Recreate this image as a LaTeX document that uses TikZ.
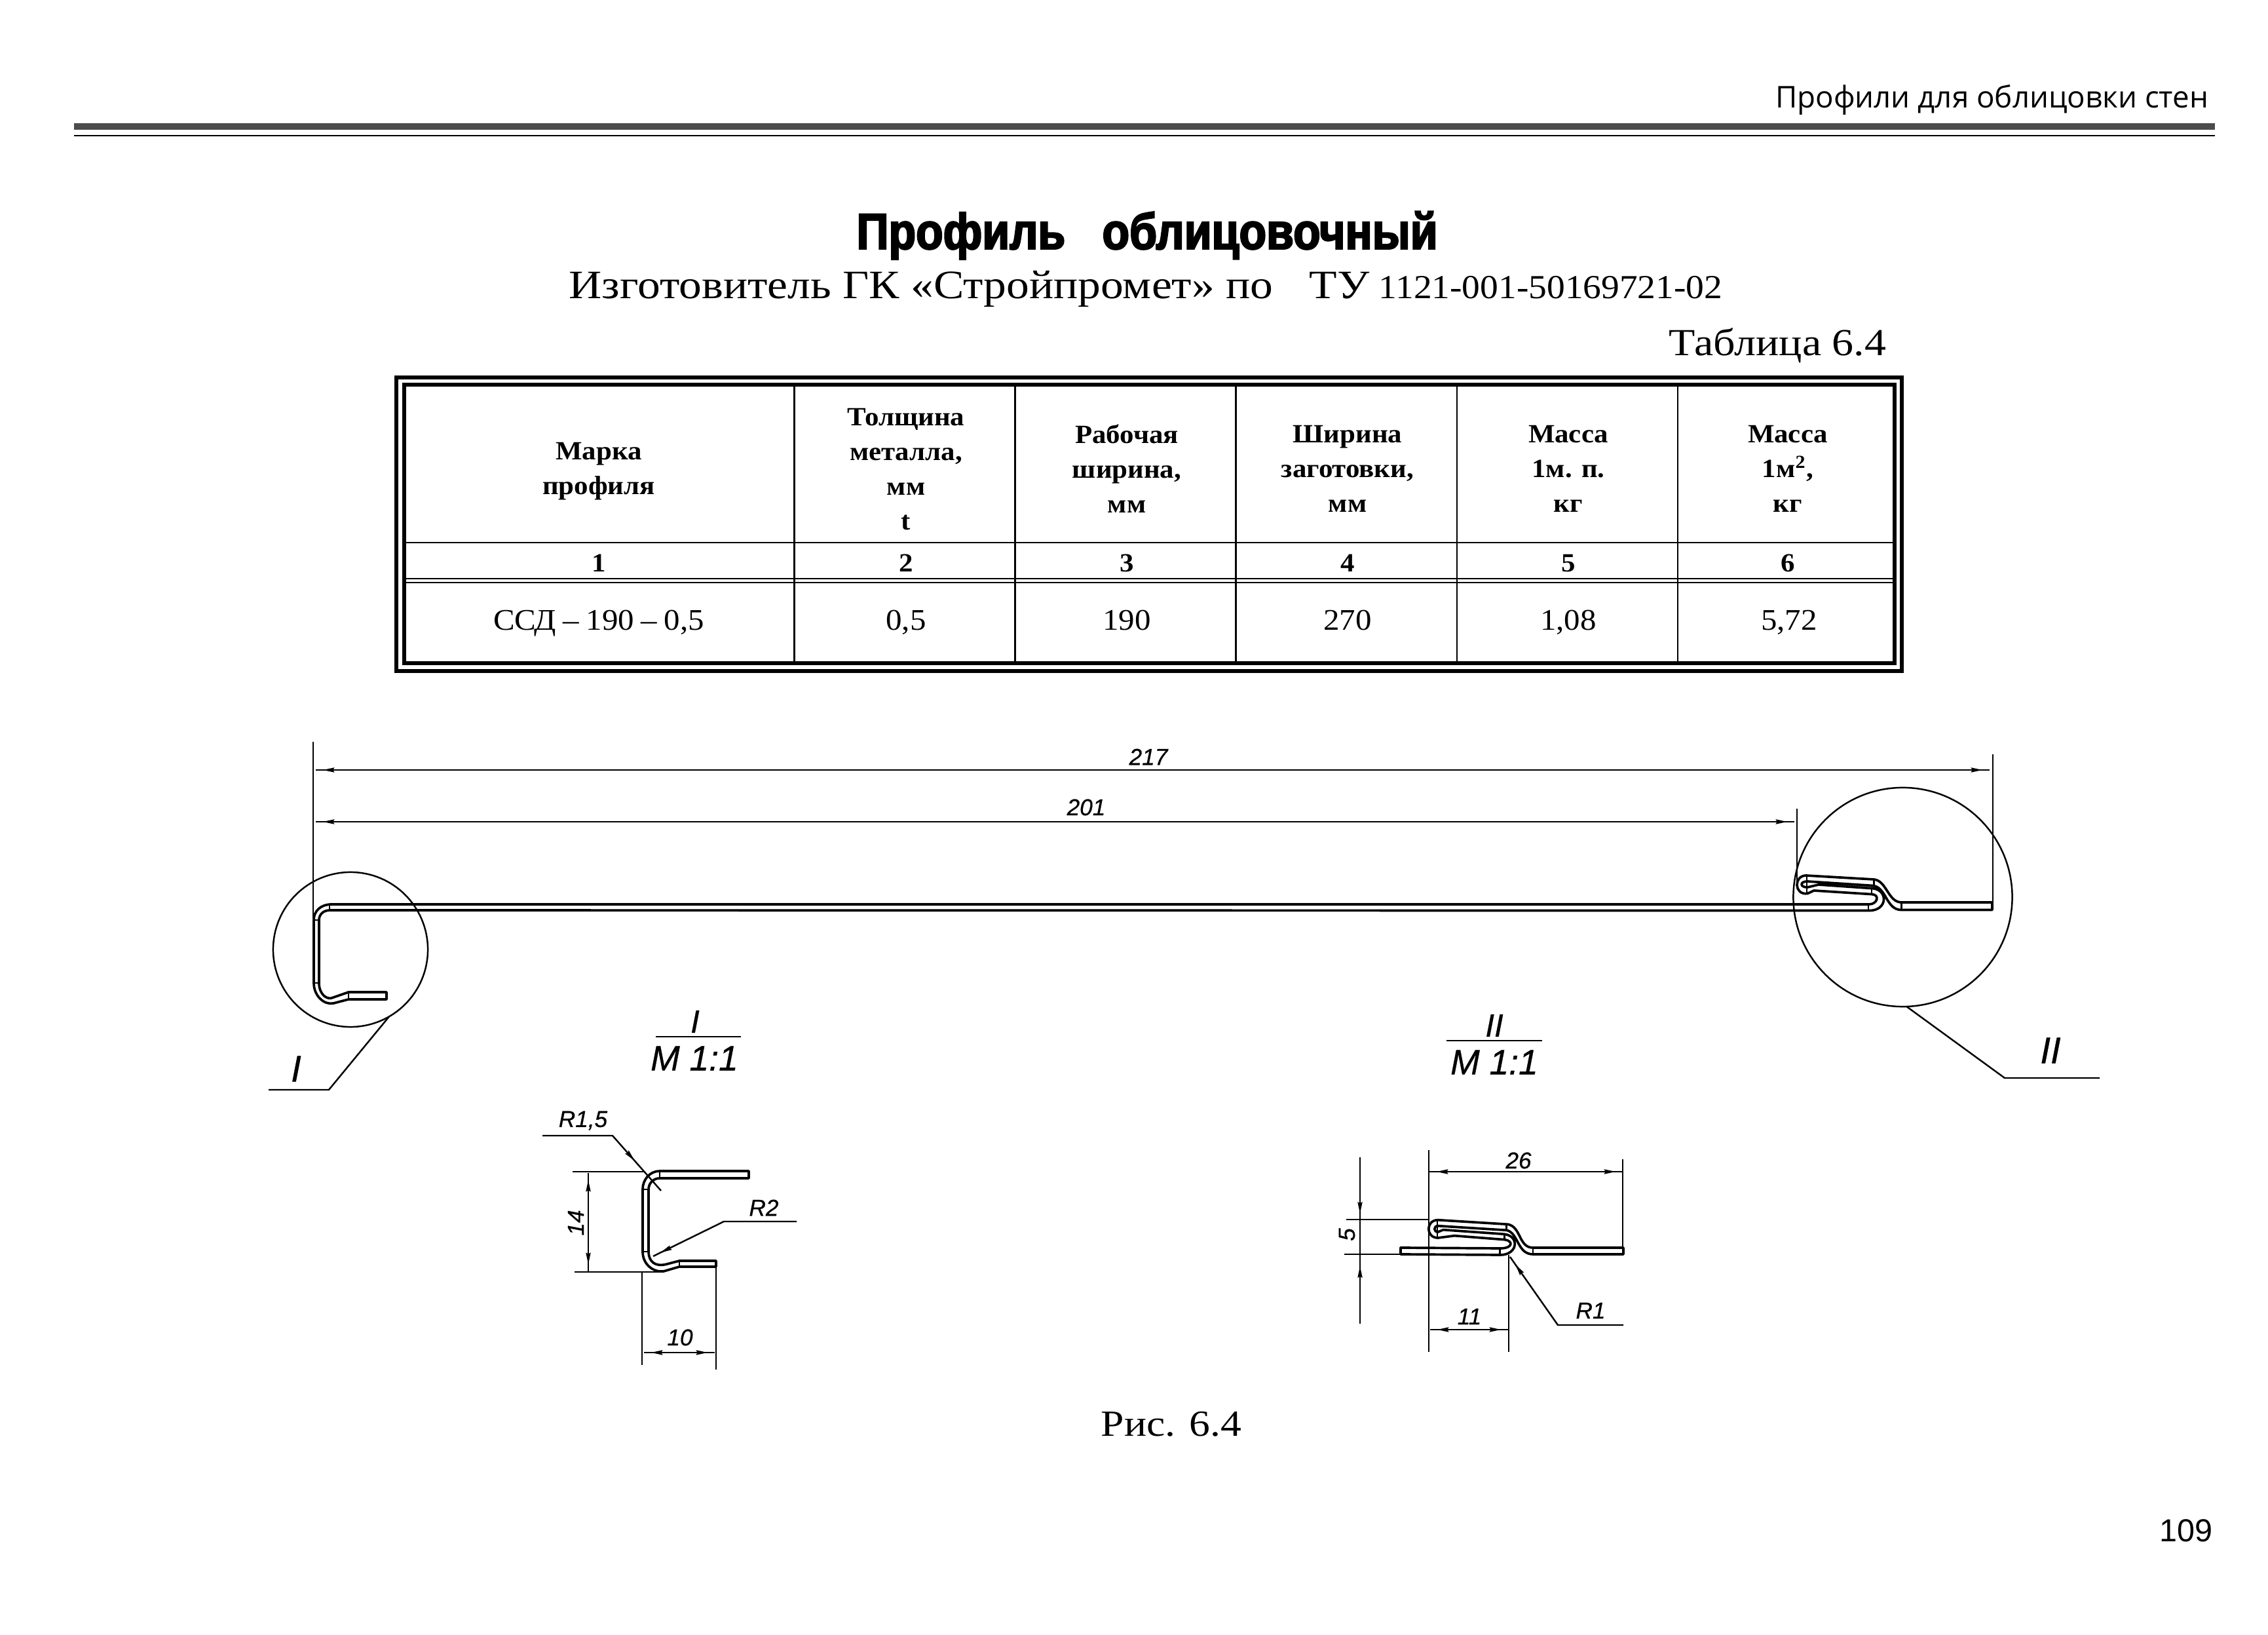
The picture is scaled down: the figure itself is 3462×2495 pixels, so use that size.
\documentclass[tikz,border=0pt]{standalone}
\usepackage{fontspec}
\usetikzlibrary{arrows.meta,decorations.markings}
\setmainfont{Liberation Serif}
\newfontfamily\drawfont[FakeBold=0.6]{Liberation Sans}
\newfontfamily\pagefont{Liberation Sans}
\newfontfamily\headfont{Open Sans}
\newfontfamily\titlefont[FakeBold=3,FakeStretch=0.88]{Liberation Sans Bold}
\newfontfamily\widefont[FakeStretch=1.13]{Liberation Serif}
\newfontfamily\tabfont[FakeStretch=1.07]{Liberation Serif}
\newfontfamily\numfont[FakeStretch=1.08]{Liberation Serif}

\tikzset{
  dimhead/.tip={Stealth[length=5pt,width=2pt,inset=0.5pt]},
  rim/.style={line width=1.05pt,line join=round},
  hairline/.style={line width=0.7pt},
  dimline/.style={hairline,postaction={decorate},decoration={markings,
    mark=at position 3pt with {\arrowreversed{dimhead}},
    mark=at position -3pt with {\arrow{dimhead}}}},
  leadertip/.style={hairline,postaction={decorate},decoration={markings,
    mark=at position #1 with {\arrow{dimhead}}}},
  dimtext/.style={font=\drawfont\itshape\fontsize{10pt}{12pt}\selectfont,inner sep=0pt},
  sectext/.style={font=\drawfont\itshape\fontsize{15.2pt}{17pt}\selectfont,inner sep=0pt},
  bigtext/.style={font=\drawfont\itshape\fontsize{16pt}{18pt}\selectfont,inner sep=0pt},
  tabhead/.style={font=\tabfont\bfseries\fontsize{11.4pt}{15.1pt}\selectfont,align=center,inner sep=0pt},
  tabnum/.style={font=\tabfont\bfseries\fontsize{11.4pt}{14pt}\selectfont,anchor=base,inner sep=0pt},
  tabdata/.style={font=\tabfont\fontsize{13pt}{15pt}\selectfont,anchor=base,inner sep=0pt},
  detail/.style={draw,circle,hairline,inner sep=0pt,outer sep=0pt}
}

\begin{document}
\begin{tikzpicture}[x=0.01cm,y=-0.01cm]
\useasboundingbox (0,0) rectangle (3462,2495);

% page head
\node[font=\headfont\fontsize{13pt}{15pt}\selectfont,anchor=base east,inner sep=0pt] (running) at (3372,165) {Профили для облицовки стен};
\fill[black!70] (113,188) rectangle (3381,198);
\draw[hairline] (113,207) -- (3381,207);

\node[font=\titlefont\fontsize{22pt}{24pt}\selectfont,anchor=base,inner sep=0pt] (title) at (1751,380) {Профиль\hspace{16pt}облицовочный};
\node[font=\widefont\fontsize{17.5pt}{20pt}\selectfont,anchor=base west,inner sep=0pt] (maker) at (868,456) {Изготовитель ГК «Стройпромет» по};
\node[font=\widefont\fontsize{17.5pt}{20pt}\selectfont,anchor=base west,inner sep=0pt] (tu) at (1998,456) {ТУ};
\node[font=\numfont\fontsize{14.6pt}{16pt}\selectfont,anchor=base east,inner sep=0pt] (tunum) at (2630,456) {1121-001-50169721-02};
\node[font=\widefont\fontsize{16.6pt}{20pt}\selectfont,anchor=base east,inner sep=0pt] (tabname) at (2880,543) {Таблица 6.4};

% table frame
\draw[line width=1.7pt] (605,576) rectangle (2903,1024);
\draw[line width=1.7pt] (617,587) rectangle (2892,1012);
\draw[hairline] (617,828) -- (2892,828);
\draw[hairline] (617,883) -- (2892,883);
\draw[hairline] (617,889) -- (2892,889);
\foreach \colx in {1212.5,1549.6,1886.7,2223.9,2561} {
  \draw[hairline] (\colx,587) -- (\colx,1012);
}

\node[tabhead] (markhead) at (914,719) {Марка\\профиля};
\node[tabhead] (thickhead) at (1383,716) {Толщина\\металла,\\мм\\t};
\node[tabhead] (workhead) at (1720,715) {Рабочая\\ширина,\\мм};
\node[tabhead] (blankhead) at (2057,715) {Ширина\\заготовки,\\мм};
\node[tabhead] (masshead) at (2394,715) {Масса\\1м. п.\\кг};
\node[tabhead] (areahead) at (2729,715) {Масса\\1м\textsuperscript{2},\\кг};

\node[tabnum] (nA) at (914,873) {1};
\node[tabnum] (nB) at (1383,873) {2};
\node[tabnum] (nC) at (1720,873) {3};
\node[tabnum] (nD) at (2057,873) {4};
\node[tabnum] (nE) at (2394,873) {5};
\node[tabnum] (nF) at (2729,873) {6};

\node[tabdata] (dA) at (914,962) {ССД\hspace{3pt}–\hspace{3pt}190\hspace{3pt}–\hspace{3pt}0,5};
\node[tabdata] (dB) at (1383,962) {0,5};
\node[tabdata] (dC) at (1720,962) {190};
\node[tabdata] (dD) at (2057,962) {270};
\node[tabdata] (dE) at (2394,962) {1,08};
\node[tabdata] (dF) at (2731,962) {5,72};

% whole profile
\draw[rim] (506,1380) -- (2853,1380)
  .. controls (2866,1380) and (2870,1365) .. (2857,1364.6)
  -- (2769,1359) -- (2759,1363.6)
  .. controls (2738,1366) and (2738,1336) .. (2757,1336)
  -- (2860.5,1342)
  .. controls (2880,1344) and (2882,1377) .. (2902.6,1377)
  -- (3041,1377) -- (3041,1388.6) -- (2902.6,1388.6)
  .. controls (2878,1388.6) and (2880,1352) .. (2857,1351.4)
  -- (2759,1345)
  .. controls (2747,1345) and (2747,1354) .. (2759,1354)
  -- (2776,1350) -- (2858.6,1355.7)
  .. controls (2882,1358) and (2882,1389.6) .. (2853,1389.6)
  -- (504,1389)
  .. controls (493,1389) and (487,1396) .. (487,1404)
  -- (487,1500)
  .. controls (487,1518) and (500,1527) .. (509,1522)
  -- (532,1514) -- (590,1514) -- (590,1525) -- (532,1525) -- (509,1531)
  .. controls (495,1534) and (479,1520) .. (479,1500)
  -- (479,1404)
  .. controls (479,1390) and (490,1380) .. (506,1380) -- cycle;
\draw[hairline] (503,1380) -- (503,1389);
\draw[hairline] (479,1404) -- (487,1404);
\draw[hairline] (479,1500) -- (487,1500);
\draw[hairline] (532,1514) -- (532,1525);
\draw[hairline] (2758,1338) -- (2758,1363);
\draw[hairline] (2860.5,1342) -- (2860.5,1351);
\draw[hairline] (2857,1357) -- (2857,1366);
\draw[hairline] (2852,1380) -- (2852,1389.6);
\draw[hairline] (2902.6,1377) -- (2902.6,1388.6);

% extension lines and sizes
\coordinate (extLa) at (478,1132);
\coordinate (extLb) at (478,1402);
\coordinate (extRa) at (3042,1151);
\coordinate (extRb) at (3042,1377);
\coordinate (extMa) at (2743,1234);
\coordinate (extMb) at (2743,1349);
\draw[hairline] (extLa) -- (extLb);
\draw[hairline] (extRa) -- (extRb);
\draw[hairline] (extMa) -- (extMb);
\coordinate (longA) at (482,1175);
\coordinate (longB) at (3037,1175);
\coordinate (shortA) at (482,1254);
\coordinate (shortB) at (2739,1254);
\draw[dimline] (longA) -- (longB);
\draw[dimline] (shortA) -- (shortB);
\node[dimtext] (lab217) at (1753,1155) {217};
\node[dimtext] (lab201) at (1658,1232) {201};

% detail circles
\node[detail,minimum size=2.36cm] (circI) at (535,1449) {};
\node[detail,minimum size=3.34cm] (circII) at (2904.5,1369) {};
\coordinate (legI) at (502,1663);
\coordinate (endI) at (410,1663);
\coordinate (legII) at (3060,1645);
\coordinate (endII) at (3205,1645);
\draw[hairline] (circI.-60) -- (legI) -- (endI);
\draw[hairline] (circII.-88) -- (legII) -- (endII);
\node[bigtext] (tagI) at (452,1631) {I};
\node[bigtext] (tagII) at (3130,1603) {II};

% section titles
\node[bigtext,font=\drawfont\itshape\fontsize{14pt}{16pt}\selectfont] (secI) at (1061,1559) {I};
\coordinate (secIa) at (1001,1582);
\coordinate (secIb) at (1131,1582);
\draw[hairline] (secIa) -- (secIb);
\node[sectext] (scaleI) at (1060,1615) {М 1:1};
\node[bigtext,font=\drawfont\itshape\fontsize{14pt}{16pt}\selectfont] (secII) at (2281,1565) {II};
\coordinate (secIIa) at (2208,1588);
\coordinate (secIIb) at (2354,1588);
\draw[hairline] (secIIa) -- (secIIb);
\node[sectext] (scaleII) at (2281,1621) {М 1:1};

% detail I
\draw[rim] (1143,1787) -- (1007,1787)
  .. controls (992,1787) and (981,1800) .. (981,1815)
  -- (981,1910)
  .. controls (981,1930) and (998,1942) .. (1013,1940)
  -- (1037,1933) -- (1093,1933) -- (1093,1924) -- (1037,1924) -- (1018,1929)
  .. controls (1000,1934) and (990,1925) .. (990,1910)
  -- (990,1815)
  .. controls (990,1806) and (997,1798) .. (1007,1798)
  -- (1143,1798) -- cycle;
\draw[hairline] (1007,1787) -- (1007,1798);
\draw[hairline] (981,1815) -- (990,1815);
\draw[hairline] (981,1910) -- (990,1910);
\draw[hairline] (1037,1924) -- (1037,1933);

\coordinate (hIa) at (874,1788);
\coordinate (hIb) at (983,1788);
\coordinate (hIc) at (877,1941);
\coordinate (hId) at (1013,1941);
\coordinate (vIa) at (980,1941);
\coordinate (vIb) at (980,2083);
\coordinate (vIc) at (1093,1930);
\coordinate (vId) at (1093,2090);
\draw[hairline] (hIa) -- (hIb);
\draw[hairline] (hIc) -- (hId);
\draw[hairline] (vIa) -- (vIb);
\draw[hairline] (vIc) -- (vId);
\coordinate (s14a) at (898,1790);
\coordinate (s14b) at (898,1940);
\coordinate (s10a) at (983,2064);
\coordinate (s10b) at (1091,2064);
\draw[dimline] (s14a) -- (s14b);
\draw[dimline] (s10a) -- (s10b);
\node[dimtext,rotate=90] (lab14) at (879,1866) {14};
\node[dimtext] (lab10) at (1038,2041) {10};

\coordinate (rAa) at (828,1733);
\coordinate (rAb) at (935,1733);
\coordinate (rAc) at (1009,1817);
\draw[leadertip=1.58cm] (rAa) -- (rAb) -- (rAc);
\node[dimtext] (labRA) at (890,1710) {R1,5};
\coordinate (rBa) at (1216,1864);
\coordinate (rBb) at (1105,1864);
\coordinate (rBc) at (997,1917);
\draw[leadertip=2.19cm] (rBa) -- (rBb) -- (rBc);
\node[dimtext] (labRB) at (1166,1843) {R2};

% detail II
\draw[rim] (2195,1861.7) -- (2301.7,1868.3)
  .. controls (2322,1872) and (2318,1904) .. (2340,1904)
  -- (2478,1904) -- (2478,1914) -- (2340,1914)
  .. controls (2316,1914) and (2318,1881.7) .. (2300,1877.3)
  -- (2195,1870.7)
  .. controls (2188,1870.7) and (2188,1880) .. (2195,1880)
  -- (2203,1876.7) -- (2296.7,1883.3)
  .. controls (2320,1886.7) and (2316.7,1915) .. (2290,1915)
  -- (2138,1914) -- (2138,1904) -- (2290,1905)
  .. controls (2310,1905) and (2310,1893.3) .. (2296.7,1891.7)
  -- (2220,1885.7) -- (2195,1889)
  .. controls (2176,1889) and (2176,1861.7) .. (2195,1861.7) -- cycle;
\draw[hairline] (2194,1862.7) -- (2194,1888);
\draw[hairline] (2299.3,1869.3) -- (2299.3,1877.3);
\draw[hairline] (2296.7,1884) -- (2296.7,1891.7);
\draw[hairline] (2289.3,1905) -- (2289.3,1915);
\draw[hairline] (2340,1904) -- (2340,1914);

\coordinate (hIIa) at (2055,1861);
\coordinate (hIIb) at (2181,1861);
\coordinate (hIIc) at (2052,1914);
\coordinate (hIId) at (2138,1914);
\coordinate (vIIa) at (2181,1755);
\coordinate (vIIb) at (2181,2063);
\coordinate (vIIc) at (2477,1769);
\coordinate (vIId) at (2477,1904);
\coordinate (vIIe) at (2303,1915);
\coordinate (vIIf) at (2303,2063);
\draw[hairline] (hIIa) -- (hIIb);
\draw[hairline] (hIIc) -- (hIId);
\draw[hairline] (vIIa) -- (vIIb);
\draw[hairline] (vIIc) -- (vIId);
\draw[hairline] (vIIe) -- (vIIf);
\coordinate (s26a) at (2182,1788);
\coordinate (s26b) at (2477,1788);
\coordinate (s11a) at (2183,2029);
\coordinate (s11b) at (2302,2029);
\draw[dimline] (s26a) -- (s26b);
\draw[dimline] (s11a) -- (s11b);
\coordinate (s5a) at (2076,1766);
\coordinate (s5b) at (2076,2020);
\draw[hairline,postaction={decorate},decoration={markings,
  mark=at position 0.86cm with {\arrow{dimhead}},
  mark=at position -0.88cm with {\arrowreversed{dimhead}}}] (s5a) -- (s5b);
\node[dimtext] (lab26) at (2318,1771) {26};
\node[dimtext] (lab11) at (2243,2009) {11};
\node[dimtext,rotate=90] (lab5) at (2056,1884) {5};
\coordinate (rCa) at (2478,2022);
\coordinate (rCb) at (2378,2022);
\coordinate (rCc) at (2305,1918);
\draw[leadertip=2.13cm] (rCa) -- (rCb) -- (rCc);
\node[dimtext] (labRC) at (2428,2000) {R1};

% page foot
\node[font=\widefont\fontsize{16pt}{20pt}\selectfont,inner sep=0pt] (caption) at (1788,2173) {Рис. 6.4};
\node[font=\pagefont\fontsize{13.8pt}{16pt}\selectfont,anchor=east,inner sep=0pt] (pageno) at (3378,2336) {109};
\end{tikzpicture}
\end{document}
